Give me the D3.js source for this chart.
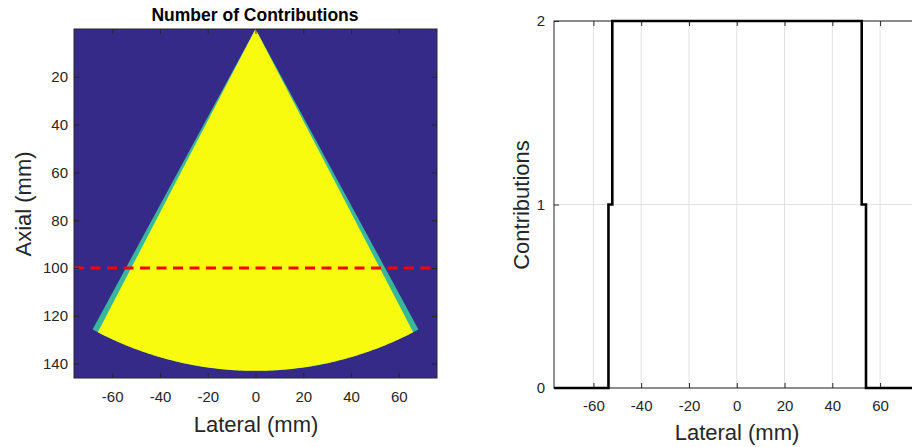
<!DOCTYPE html>
<html>
<head>
<meta charset="utf-8">
<script src="https://cdn.jsdelivr.net/npm/d3@7"></script>
<style>
  html, body { margin: 0; padding: 0; background: #ffffff; }
  svg { display: block; font-family: "Liberation Sans", Arial, Helvetica, sans-serif; }
  .tick text { fill: #262626; font-size: 15px; }
  .domain { display: none; }
  .tick line { stroke: #262626; stroke-width: 1; }
</style>
</head>
<body>
<svg id="chart" width="912" height="447"></svg>
<script>
// ---- data ----
const lateralTicks = [-60, -40, -20, 0, 20, 40, 60];
const axialTicks = [20, 40, 60, 80, 100, 120, 140];
const contribTicks = [0, 1, 2];

// imaging sector: apex at (0,0), fan radius in mm, half-opening angle per contribution level
const sectorRadius = 143;
const sectorHalfAngles = [28.5, 27.5];   // degrees
const sectorLevels = [1, 2];             // number of contributions inside each fan
const profileDepth = 100;                // mm, depth of the lateral profile

// lateral profile of the contribution count at the profile depth
const profileLateral = [-76.5, -53.7, -53.7, -52.1, -52.1, 52.3, 52.3, 54.1, 54.1, 76.5];
const profileContrib = [0, 0, 1, 1, 2, 2, 1, 1, 0, 0];

// ---- setup ----
const svg = d3.select("#chart");
const axisColor = "#262626";
const plainFmt = d => String(d);   // plain hyphen-minus, integer labels
const levelColor = d3.scaleOrdinal().domain([0, 1, 2]).range(["#352a87", "#37b89d", "#f9fb0e"]);

// ---------- left panel: contribution map ----------
const L = { left: 74, right: 437, top: 29, bottom: 378 };
const xL = d3.scaleLinear().domain([-76, 76]).range([L.left, L.right]);
const yL = d3.scaleLinear().domain([0, 146]).range([L.top, L.bottom]);

svg.append("clipPath").attr("id", "clipL")
  .append("rect").attr("x", L.left).attr("y", L.top)
  .attr("width", L.right - L.left).attr("height", L.bottom - L.top);

const mapG = svg.append("g").attr("clip-path", "url(#clipL)");
mapG.append("rect")
  .attr("x", L.left).attr("y", L.top)
  .attr("width", L.right - L.left).attr("height", L.bottom - L.top)
  .attr("fill", levelColor(0));

const fanLine = d3.line().x(d => xL(d[0])).y(d => yL(d[1]));
function fanPoints(halfDeg) {
  const a = halfDeg * Math.PI / 180;
  const pts = [[0, 0]];
  d3.range(0, 121).forEach(i => {
    const t = -a + (2 * a) * i / 120;
    pts.push([sectorRadius * Math.sin(t), sectorRadius * Math.cos(t)]);
  });
  pts.push([0, 0]);
  return pts;
}
sectorHalfAngles.forEach((h, i) => {
  mapG.append("path")
    .attr("d", fanLine(fanPoints(h)))
    .attr("fill", levelColor(sectorLevels[i]));
});

// profile depth marker
mapG.append("line")
  .attr("x1", L.left).attr("x2", L.right)
  .attr("y1", yL(profileDepth)).attr("y2", yL(profileDepth))
  .attr("stroke", "#ff0000").attr("stroke-width", 3)
  .attr("stroke-dasharray", "10,6.5");

// axes (ticks point inward, box on)
svg.append("g").attr("transform", `translate(0,${L.bottom})`)
  .call(d3.axisBottom(xL).tickValues(lateralTicks).tickFormat(plainFmt).tickSizeInner(-5).tickSizeOuter(0).tickPadding(13.5));
svg.append("g").attr("transform", `translate(0,${L.top})`)
  .call(d3.axisTop(xL).tickValues(lateralTicks).tickSizeInner(-5).tickSizeOuter(0).tickFormat(""));
svg.append("g").attr("transform", `translate(${L.left},0)`)
  .call(d3.axisLeft(yL).tickValues(axialTicks).tickFormat(plainFmt).tickSizeInner(-5).tickSizeOuter(0).tickPadding(6));
svg.append("g").attr("transform", `translate(${L.right},0)`)
  .call(d3.axisRight(yL).tickValues(axialTicks).tickSizeInner(-5).tickSizeOuter(0).tickFormat(""));

svg.append("rect")
  .attr("x", L.left).attr("y", L.top)
  .attr("width", L.right - L.left).attr("height", L.bottom - L.top)
  .attr("fill", "none").attr("stroke", axisColor).attr("stroke-width", 1);

svg.append("text")
  .attr("x", 255).attr("y", 21)
  .attr("text-anchor", "middle")
  .attr("font-weight", "bold").attr("font-size", 17.5).attr("fill", "#000")
  .text("Number of Contributions");

svg.append("text")
  .attr("x", 256).attr("y", 431.5)
  .attr("text-anchor", "middle").attr("font-size", 22).attr("fill", axisColor)
  .text("Lateral (mm)");

svg.append("text")
  .attr("transform", "translate(31,204) rotate(-90)")
  .attr("text-anchor", "middle").attr("font-size", 22).attr("fill", axisColor)
  .text("Axial (mm)");

// ---------- right panel: lateral profile ----------
const R = { left: 554, top: 21, bottom: 388 };
const xR = d3.scaleLinear().domain([-76.5, 76.5]).range([R.left, R.left + 153 * 2.389]);
const yR = d3.scaleLinear().domain([0, 2]).range([R.bottom, R.top]);
R.right = xR(76.5);

// grid
const gridG = svg.append("g");
gridG.selectAll("line.v").data(lateralTicks).join("line")
  .attr("x1", d => xR(d)).attr("x2", d => xR(d))
  .attr("y1", R.top).attr("y2", R.bottom)
  .attr("stroke", "#e2e2e2").attr("stroke-width", 1);
gridG.selectAll("line.h").data(contribTicks).join("line")
  .attr("x1", R.left).attr("x2", R.right)
  .attr("y1", d => yR(d)).attr("y2", d => yR(d))
  .attr("stroke", "#e2e2e2").attr("stroke-width", 1);

svg.append("g").attr("transform", `translate(0,${R.bottom})`)
  .call(d3.axisBottom(xR).tickValues(lateralTicks).tickFormat(plainFmt).tickSizeInner(-5).tickSizeOuter(0).tickPadding(12.5));
svg.append("g").attr("transform", `translate(0,${R.top})`)
  .call(d3.axisTop(xR).tickValues(lateralTicks).tickSizeInner(-5).tickSizeOuter(0).tickFormat(""));
svg.append("g").attr("transform", `translate(${R.left},0)`)
  .call(d3.axisLeft(yR).tickValues(contribTicks).tickFormat(plainFmt).tickSizeInner(-5).tickSizeOuter(0).tickPadding(9));

svg.append("rect")
  .attr("x", R.left).attr("y", R.top)
  .attr("width", R.right - R.left).attr("height", R.bottom - R.top)
  .attr("fill", "none").attr("stroke", axisColor).attr("stroke-width", 1);

const profile = profileLateral.map((x, i) => [x, profileContrib[i]]);
svg.append("path")
  .attr("d", d3.line().x(d => xR(d[0])).y(d => yR(d[1]))(profile))
  .attr("fill", "none").attr("stroke", "#000").attr("stroke-width", 2.6)
  .attr("stroke-linejoin", "miter");

svg.append("text")
  .attr("x", 737).attr("y", 440)
  .attr("text-anchor", "middle").attr("font-size", 22).attr("fill", axisColor)
  .text("Lateral (mm)");

svg.append("text")
  .attr("transform", "translate(529,205) rotate(-90)")
  .attr("text-anchor", "middle").attr("font-size", 22).attr("fill", axisColor)
  .text("Contributions");
</script>
</body>
</html>
